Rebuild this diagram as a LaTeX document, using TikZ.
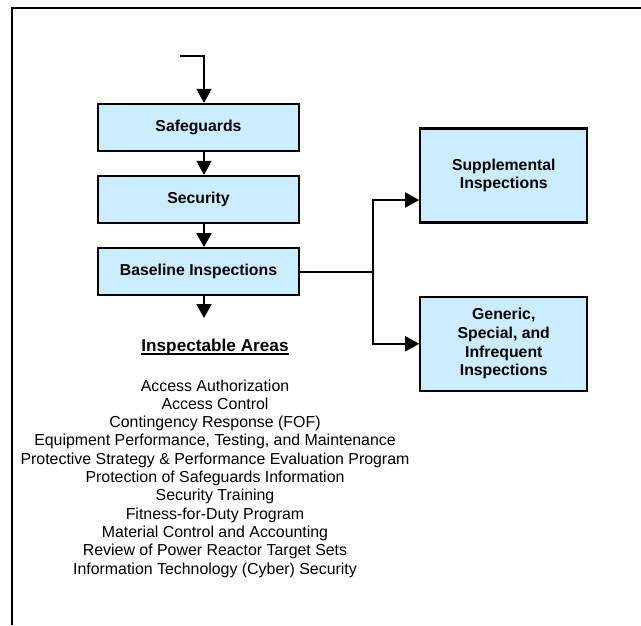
\documentclass[tikz,border=0pt]{standalone}
\usepackage{fontspec}
\setmainfont{Liberation Sans}
\usetikzlibrary{arrows.meta}
\definecolor{boxblue}{RGB}{204,236,255}
\begin{document}
\begin{tikzpicture}[x=1pt,y=-1pt,
  box/.style={draw=black, line width=2.2pt, fill=boxblue, inner sep=0pt,
    font=\fontsize{15.8}{18.7}\selectfont\bfseries, align=center},
  widebox/.style={box, minimum width=201pt, minimum height=47pt},
  sidebox/.style={box, minimum width=167pt, minimum height=94pt},
  conn/.style={line width=2pt, -{Triangle[length=14pt,width=15pt]}},
  plainline/.style={line width=2pt},
  areaitem/.style={anchor=base, inner sep=0pt, font=\fontsize{15.9}{18.3}\selectfont},
  header/.style={anchor=base, inner sep=0pt, font=\fontsize{17.2}{20}\selectfont\bfseries}
]
\useasboundingbox (0,0) rectangle (641,625);
% frame
\draw[line width=2pt] (641,7.5) -- (12,7.5) -- (12,625);

% boxes
\node[widebox] (safe) at (198.5,127.5) {Safeguards};
\node[widebox] (sec)  at (198.5,199.5) {Security};
\node[widebox] (base) at (198.5,271.7) {Baseline Inspections};
\node[sidebox] (supp) at (503.8,175.5) {Supplemental\\Inspections};
\node[sidebox] (gen)  at (503.8,343.8) {Generic,\\Special, and\\Infrequent\\Inspections};

% connectors
\coordinate (start) at (180,55.7);
\coordinate (bend) at (204,55.7);
\draw[conn] (start) -- (bend) -- (bend |- safe.north);
\draw[conn] (safe.south -| bend) -- (sec.north -| bend);
\draw[conn] (sec.south -| bend) -- (base.north -| bend);
\coordinate (down) at (204,318);
\draw[conn] (base.south -| down) -- (down);
\coordinate (split) at (372.5,271.7);
\coordinate (uparr) at (372.5,200);
\draw[plainline] (base.east) -- (split);
\draw[conn] (split) -- (uparr) -- (uparr -| supp.west);
\draw[conn] (split) |- (gen.west);

% inspectable areas
\node[header] (hdr) at (215,351.7) {Inspectable Areas};
\draw[line width=1.3pt] ([yshift=-2.2pt]hdr.base west) -- ([yshift=-2.2pt]hdr.base east);
\foreach \t [count=\i from 0] in {Access Authorization, Access Control,
  Contingency Response (FOF), {Equipment Performance, Testing, and Maintenance},
  Protective Strategy \& Performance Evaluation Program,
  Protection of Safeguards Information, Security Training,
  Fitness-for-Duty Program, Material Control and Accounting,
  Review of Power Reactor Target Sets, Information Technology (Cyber) Security}
  \node[areaitem] (area\i) at (215,391+18.3*\i) {\t};
\end{tikzpicture}
\end{document}
